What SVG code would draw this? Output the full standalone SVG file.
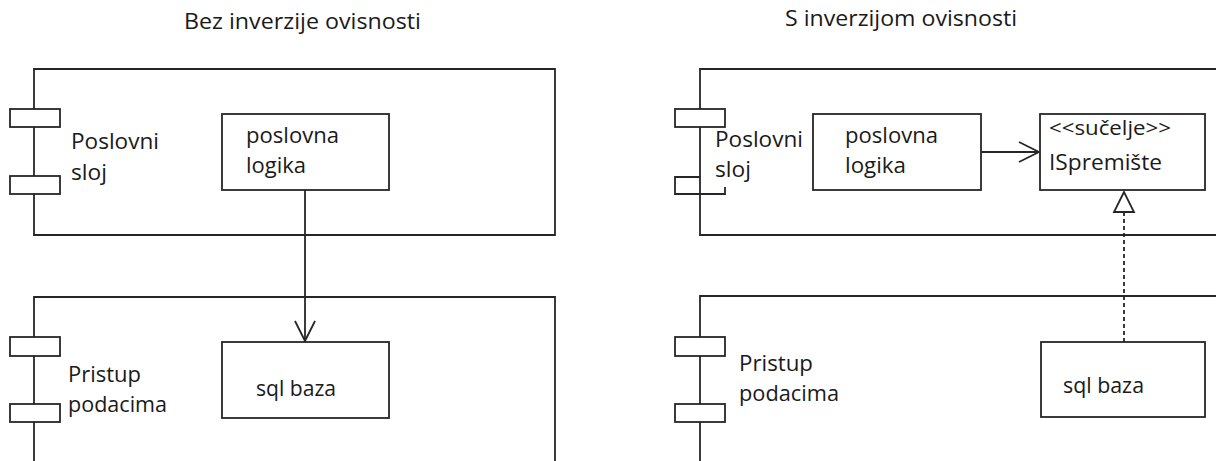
<svg xmlns="http://www.w3.org/2000/svg" width="1216" height="461" viewBox="0 0 1216 461">
<defs>
<style>
.ln{fill:none;stroke:#262626;stroke-width:1.8}
.bx{fill:#fff;stroke:#262626;stroke-width:1.8}
.t{font-family:"Open Sans","Noto Sans",sans-serif;font-size:22px;fill:#1a1a1a}
.tt{font-family:"Open Sans","Noto Sans",sans-serif;font-size:21px;fill:#1a1a1a}
.ts{font-family:"Open Sans","Noto Sans",sans-serif;font-size:19.5px;fill:#1a1a1a}
</style>
<marker id="open" markerWidth="24" markerHeight="24" viewBox="0 0 24 24" refX="22" refY="12" orient="auto" markerUnits="userSpaceOnUse">
<path d="M2,2 L22,12 L2,22" fill="none" stroke="#262626" stroke-width="1.8"/>
</marker>
</defs>
<rect width="1216" height="461" fill="#fff"/>

<text class="tt" x="184" y="29" textLength="237" lengthAdjust="spacingAndGlyphs">Bez inverzije ovisnosti</text>
<text class="tt" x="785" y="26" textLength="232" lengthAdjust="spacingAndGlyphs">S inverzijom ovisnosti</text>

<!-- LEFT: Poslovni sloj -->
<g id="left-poslovni-sloj">
<path class="ln" d="M34,109 V69 H555 V235 H34 Z"/>
<rect class="bx" x="10" y="109" width="50" height="18"/>
<rect class="bx" x="10" y="176" width="50" height="18"/>
<text class="t" x="71" y="149" textLength="88" lengthAdjust="spacingAndGlyphs">Poslovni</text>
<text class="t" x="71" y="180" textLength="36" lengthAdjust="spacingAndGlyphs">sloj</text>
</g>
<g id="left-poslovna-logika">
<rect class="bx" x="222" y="114" width="167" height="76"/>
<text class="t" x="246" y="143" textLength="93" lengthAdjust="spacingAndGlyphs">poslovna</text>
<text class="t" x="246" y="173" textLength="60" lengthAdjust="spacingAndGlyphs">logika</text>
</g>

<!-- LEFT: Pristup podacima -->
<g id="left-pristup-podacima">
<path class="ln" d="M34,461 V297 H555 V461"/>
<rect class="bx" x="10" y="337" width="50" height="19"/>
<rect class="bx" x="10" y="404" width="50" height="18"/>
<text class="t" x="68" y="382" textLength="73" lengthAdjust="spacingAndGlyphs">Pristup</text>
<text class="t" x="68" y="412" textLength="99" lengthAdjust="spacingAndGlyphs">podacima</text>
</g>
<g id="left-sql-baza">
<rect class="bx" x="222" y="342" width="167" height="76"/>
<text class="t" x="256" y="396" textLength="80" lengthAdjust="spacingAndGlyphs">sql baza</text>
</g>

<!-- RIGHT: Poslovni sloj -->
<g id="right-poslovni-sloj">
<path class="ln" d="M1216,69 H700 V235 H1216"/>
<rect class="bx" x="675" y="109" width="50" height="18"/>
<path class="ln" d="M700,177 H675 V194 H725 V187"/>
<text class="t" x="715" y="147" textLength="88" lengthAdjust="spacingAndGlyphs">Poslovni</text>
<text class="t" x="715" y="177" textLength="36" lengthAdjust="spacingAndGlyphs">sloj</text>
</g>
<g id="right-poslovna-logika">
<rect class="bx" x="813" y="114" width="168" height="76"/>
<text class="t" x="845" y="143" textLength="93" lengthAdjust="spacingAndGlyphs">poslovna</text>
<text class="t" x="845" y="173" textLength="61" lengthAdjust="spacingAndGlyphs">logika</text>
</g>
<g id="right-ispremiste">
<rect class="bx" x="1040" y="114" width="165" height="76"/>
<text class="ts" x="1049" y="135" textLength="122" lengthAdjust="spacingAndGlyphs">&lt;&lt;sučelje&gt;&gt;</text>
<text class="t" x="1049" y="170" textLength="113" lengthAdjust="spacingAndGlyphs">ISpremište</text>
</g>

<!-- RIGHT: Pristup podacima -->
<g id="right-pristup-podacima">
<path class="ln" d="M700,461 V296 H1216"/>
<rect class="bx" x="675" y="337" width="50" height="19"/>
<rect class="bx" x="675" y="404" width="50" height="18"/>
<text class="t" x="739" y="371" textLength="74" lengthAdjust="spacingAndGlyphs">Pristup</text>
<text class="t" x="739" y="401" textLength="100" lengthAdjust="spacingAndGlyphs">podacima</text>
</g>
<g id="right-sql-baza">
<rect class="bx" x="1041" y="342" width="164" height="75"/>
<text class="t" x="1063" y="393" textLength="81" lengthAdjust="spacingAndGlyphs">sql baza</text>
</g>

<!-- connectors -->
<g id="connectors">
<line class="ln" x1="305" y1="190" x2="305" y2="341" marker-end="url(#open)"/>
<line class="ln" x1="981" y1="152" x2="1039" y2="152" marker-end="url(#open)"/>
<line x1="1124" y1="342" x2="1124" y2="212" stroke="#262626" stroke-width="1.8" stroke-dasharray="4,3"/>
<path class="bx" d="M1124,192 L1114,212 H1134 Z"/>
</g>
</svg>
